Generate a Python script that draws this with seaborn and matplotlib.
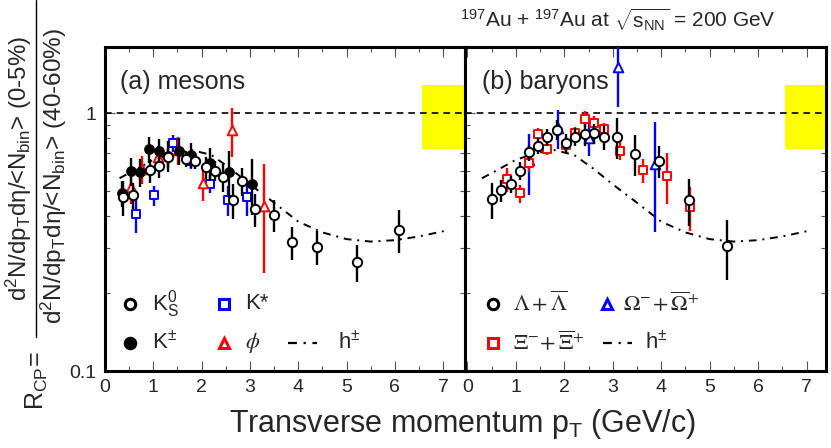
import numpy as np
import pandas as pd
import matplotlib
matplotlib.use("Agg")
import matplotlib.pyplot as plt
import seaborn as sns
from matplotlib.ticker import FixedLocator, MultipleLocator, NullFormatter, FixedFormatter
from matplotlib.lines import Line2D
from matplotlib.patches import Rectangle

# ---------------- data ----------------
# charged hadrons h+- (dash-dot reference curve, both panels)
h_pt = [0.3, 0.6, 1.0, 1.4, 1.8, 2.2, 2.6, 3.0, 3.5, 4.0, 4.5, 5.0, 5.5, 6.0, 6.5, 7.1]
h_rcp = [0.56, 0.60, 0.66, 0.70, 0.72, 0.69, 0.61, 0.53, 0.45, 0.38, 0.345, 0.325, 0.318, 0.322, 0.333, 0.352]

# (a) mesons
k0s_pt = [0.37, 0.57, 0.93, 1.12, 1.31, 1.68, 1.86, 2.09, 2.28, 2.45, 2.64, 2.83, 3.10, 3.50, 3.88, 4.38, 5.22, 6.09]
k0s_rcp = [0.474, 0.483, 0.603, 0.627, 0.675, 0.665, 0.655, 0.617, 0.600, 0.567, 0.460, 0.547, 0.424, 0.403, 0.316, 0.303, 0.265, 0.353]
k0s_err = [0.073, 0.056, 0.065, 0.068, 0.061, 0.048, 0.047, 0.061, 0.054, 0.071, 0.070, 0.069, 0.061, 0.058, 0.046, 0.046, 0.043, 0.067]

kch_pt = [0.35, 0.54, 0.72, 0.92, 1.12, 1.31, 1.53, 1.79, 2.17, 2.57, 3.04]
kch_rcp = [0.489, 0.599, 0.590, 0.728, 0.713, 0.686, 0.717, 0.691, 0.640, 0.590, 0.534]
kch_err = [0.057, 0.075, 0.074, 0.085, 0.083, 0.093, 0.084, 0.075, 0.092, 0.122, 0.130]

kst_pt = [0.64, 1.02, 1.40, 1.77, 2.17, 2.55, 2.93]
kst_rcp = [0.408, 0.481, 0.766, 0.655, 0.534, 0.460, 0.474]
kst_err = [0.066, 0.043, 0.055, 0.047, 0.043, 0.062, 0.073]

phi_pt = [0.54, 0.77, 1.10, 1.52, 2.02, 2.62, 3.29]
phi_rcp = [0.519, 0.608, 0.675, 0.721, 0.539, 0.863, 0.437]
phi_err = [0.075, 0.077, 0.073, 0.091, 0.082, 0.186, 0.197]

# (b) baryons
lam_pt = [0.50, 0.70, 0.89, 1.08, 1.27, 1.46, 1.65, 1.85, 2.04, 2.23, 2.43, 2.61, 2.81, 3.08, 3.46, 3.96, 4.57, 5.36]
lam_rcp = [0.464, 0.503, 0.531, 0.599, 0.706, 0.750, 0.808, 0.863, 0.766, 0.813, 0.828, 0.838, 0.808, 0.813, 0.696, 0.655, 0.461, 0.305]
lam_err = [0.075, 0.050, 0.038, 0.049, 0.051, 0.054, 0.058, 0.078, 0.062, 0.066, 0.082, 0.075, 0.087, 0.146, 0.125, 0.094, 0.095, 0.080]

xi_pt = [0.82, 1.08, 1.27, 1.45, 1.65, 2.04, 2.23, 2.42, 2.61, 2.81, 3.15, 3.62, 4.11, 4.59]
xi_rcp = [0.556, 0.489, 0.640, 0.833, 0.728, 0.757, 0.838, 0.953, 0.917, 0.871, 0.717, 0.603, 0.573, 0.434]
xi_err = [0.060, 0.040, 0.046, 0.045, 0.039, 0.055, 0.045, 0.069, 0.058, 0.047, 0.058, 0.065, 0.129, 0.086]

om_pt = [1.27, 1.87, 2.50, 3.10, 3.87]
om_rcp = [0.659, 0.879, 0.804, 1.516, 0.636]
om_err = [0.176, 0.150, 0.120, 0.460, 0.290]

# normalisation uncertainty band
box_x0, box_lo, box_hi = 6.55, 0.73, 1.29

# ---------------- style ----------------
sns.set_theme(style="ticks")
plt.rcParams["font.family"] = ["Liberation Sans", "DejaVu Sans"]
plt.rcParams["mathtext.fontset"] = "custom"
plt.rcParams["mathtext.rm"] = "Liberation Sans"
plt.rcParams["mathtext.it"] = "Liberation Sans:italic"
plt.rcParams["mathtext.bf"] = "Liberation Sans:bold"
plt.rcParams["mathtext.sf"] = "Liberation Sans"
plt.rcParams["axes.linewidth"] = 2.2

W, H = 831, 448
fig = plt.figure(figsize=(W / 100, H / 100), dpi=100)


def rect(x0, x1, y0, y1):
    return [x0 / W, 1 - y1 / H, (x1 - x0) / W, (y1 - y0) / H]


axa = fig.add_axes(rect(105, 465, 47, 371))
axb = fig.add_axes(rect(465, 826, 47, 371))

DASHDOT = (4, 3, 1, 3)
BLUE = "#0000ff"
RED = "#ff0000"


def style_axis(ax, xlim, show_ylabels):
    ax.set_yscale("log")
    ax.set_ylim(0.1, 1.81)
    ax.set_xlim(*xlim)
    ax.xaxis.set_major_locator(MultipleLocator(1))
    ax.xaxis.set_minor_locator(MultipleLocator(0.5))
    ax.yaxis.set_major_locator(FixedLocator([0.1, 1.0]))
    ax.yaxis.set_minor_locator(FixedLocator([0.2, 0.3, 0.4, 0.5, 0.6, 0.7, 0.8, 0.9]))
    ax.yaxis.set_minor_formatter(NullFormatter())
    if show_ylabels:
        ax.yaxis.set_major_formatter(FixedFormatter(["0.1", "1"]))
    else:
        ax.yaxis.set_major_formatter(NullFormatter())
    ax.tick_params(which="both", direction="in", top=True, right=True, labelsize=14,
                   color="#555555", width=0.8)
    ax.tick_params(which="major", length=7, pad=6)
    ax.tick_params(which="minor", length=3.5)
    for s in ax.spines.values():
        s.set_linewidth(2.2)
        s.set_color("black")
    ax.axhline(1.0, color="black", lw=1.2, ls=(0, (4, 3)), zorder=3)
    ax.add_patch(Rectangle((box_x0, box_lo), 10, box_hi - box_lo, facecolor="#ffff00",
                           edgecolor="none", zorder=1))


def h_curve(ax):
    df = pd.DataFrame({"pt": h_pt, "rcp": h_rcp})
    sns.lineplot(data=df, x="pt", y="rcp", ax=ax, color="black", lw=1.4, zorder=2)
    ax.lines[-1].set_dashes(DASHDOT)


def series(ax, pt, rcp, err, marker, color, filled=False, z=5, s=45):
    ax.errorbar(pt, rcp, yerr=err, fmt="none", ecolor=color, elinewidth=1.7,
                capsize=0, zorder=z)
    df = pd.DataFrame({"pt": pt, "rcp": rcp})
    sns.scatterplot(data=df, x="pt", y="rcp", ax=ax, marker=marker, s=s,
                    facecolor=color if filled else "white", edgecolor=color,
                    linewidth=1.4, zorder=z + 0.5)


# ---------------- panel (a) ----------------
style_axis(axa, (0, 7.45), True)
h_curve(axa)
series(axa, kst_pt, kst_rcp, kst_err, "s", BLUE, z=4, s=40)
series(axa, phi_pt, phi_rcp, phi_err, "^", RED, z=5, s=48)
series(axa, kch_pt, kch_rcp, kch_err, "o", "black", filled=True, z=6, s=40)
series(axa, k0s_pt, k0s_rcp, k0s_err, "o", "black", z=7, s=45)

# ---------------- panel (b) ----------------
style_axis(axb, (-0.05, 7.4), False)
h_curve(axb)
series(axb, om_pt, om_rcp, om_err, "^", BLUE, z=4, s=48)
series(axb, xi_pt, xi_rcp, xi_err, "s", RED, z=5, s=40)
series(axb, lam_pt, lam_rcp, lam_err, "o", "black", z=7, s=45)

for ax in (axa, axb):
    ax.set_xlabel("")
    ax.set_ylabel("")

# panel labels
axa.text(0.042, 0.892, "(a) mesons", transform=axa.transAxes, fontsize=18,
         ha="left", va="center")
axb.text(0.047, 0.892, "(b) baryons", transform=axb.transAxes, fontsize=18,
         ha="left", va="center")


# ---------------- legends (drawn by hand) ----------------
def leg_marker(ax, x, y, marker, color, filled=False):
    ax.plot([x], [y], marker=marker, ms=7.5, mew=2.2, mec=color,
            mfc=color if filled else "white", transform=ax.transAxes, clip_on=False,
            zorder=10)


def leg_line(ax, x0, x1, y):
    ln, = ax.plot([x0, x1], [y, y], color="black", lw=1.6, transform=ax.transAxes, zorder=10)
    ln.set_dashes(DASHDOT)


r1, r2 = 0.207, 0.087
fs_leg = 16
leg_marker(axa, 0.069, r1, "o", "black")
axa.text(0.131, r1, r"K$_{\mathregular{S}}^{\mathregular{0}}$", transform=axa.transAxes,
         fontsize=fs_leg, va="center")
leg_marker(axa, 0.331, r1, "s", BLUE)
axa.text(0.389, r1, "K*", transform=axa.transAxes, fontsize=fs_leg, va="center")
leg_marker(axa, 0.069, r2, "o", "black", filled=True)
axa.text(0.131, r2, r"K$^{\pm}$", transform=axa.transAxes, fontsize=fs_leg, va="center")
leg_marker(axa, 0.331, r2, "^", RED)
axa.text(0.389, r2, r"$\phi$", transform=axa.transAxes, fontsize=fs_leg, va="center",
         math_fontfamily="stix")
leg_line(axa, 0.508, 0.589, r2)
axa.text(0.647, r2, r"h$^{\pm}$", transform=axa.transAxes, fontsize=fs_leg, va="center")

leg_marker(axb, 0.078, r1, "o", "black")
axb.text(0.133, r1, r"$\Lambda+\overline{\Lambda}$", transform=axb.transAxes,
         fontsize=fs_leg, va="center", math_fontfamily="stix")
leg_marker(axb, 0.393, r1, "^", BLUE)
axb.text(0.438, r1, r"$\Omega^{-}\!+\overline{\Omega}^{+}$", transform=axb.transAxes,
         fontsize=fs_leg, va="center", math_fontfamily="stix")
leg_marker(axb, 0.078, r2, "s", RED)
axb.text(0.133, r2, r"$\Xi^{-}\!+\overline{\Xi}^{+}$", transform=axb.transAxes,
         fontsize=fs_leg, va="center", math_fontfamily="stix")
leg_line(axb, 0.382, 0.463, r2)
axb.text(0.499, r2, r"h$^{\pm}$", transform=axb.transAxes, fontsize=fs_leg, va="center")

# ---------------- figure texts ----------------
fig.text(618 / W, 1 - 20 / H,
         r"$^{\mathregular{197}}$Au + $^{\mathregular{197}}$Au at $\sqrt{\mathregular{s}_{\mathregular{NN}}}$ = 200 GeV",
         ha="center", va="center", fontsize=15)
fig.text(462 / W, 1 - 424 / H, r"Transverse momentum p$_{\mathregular{T}}$ (GeV/c)",
         ha="center", va="center", fontsize=22)

fig.text(19 / W, 1 - 169 / H,
         r"d$^{\mathregular{2}}$N/dp$_{\mathregular{T}}$dη/<N$_{\mathregular{bin}}$> (0-5%)",
         rotation=90, ha="center", va="center", fontsize=17.3)
fig.text(54 / W, 1 - 176 / H,
         r"d$^{\mathregular{2}}$N/dp$_{\mathregular{T}}$dη/<N$_{\mathregular{bin}}$> (40-60%)",
         rotation=90, ha="center", va="center", fontsize=17.6)
fig.add_artist(Line2D([36 / W, 36 / W], [1 - 0 / H, 1 - 337 / H], color="black", lw=1.0))
fig.text(37 / W, 1 - 381 / H, r"R$_{\mathregular{CP}}$=", rotation=90, ha="center",
         va="center", fontsize=18)

fig.savefig("out.png", dpi=100)
